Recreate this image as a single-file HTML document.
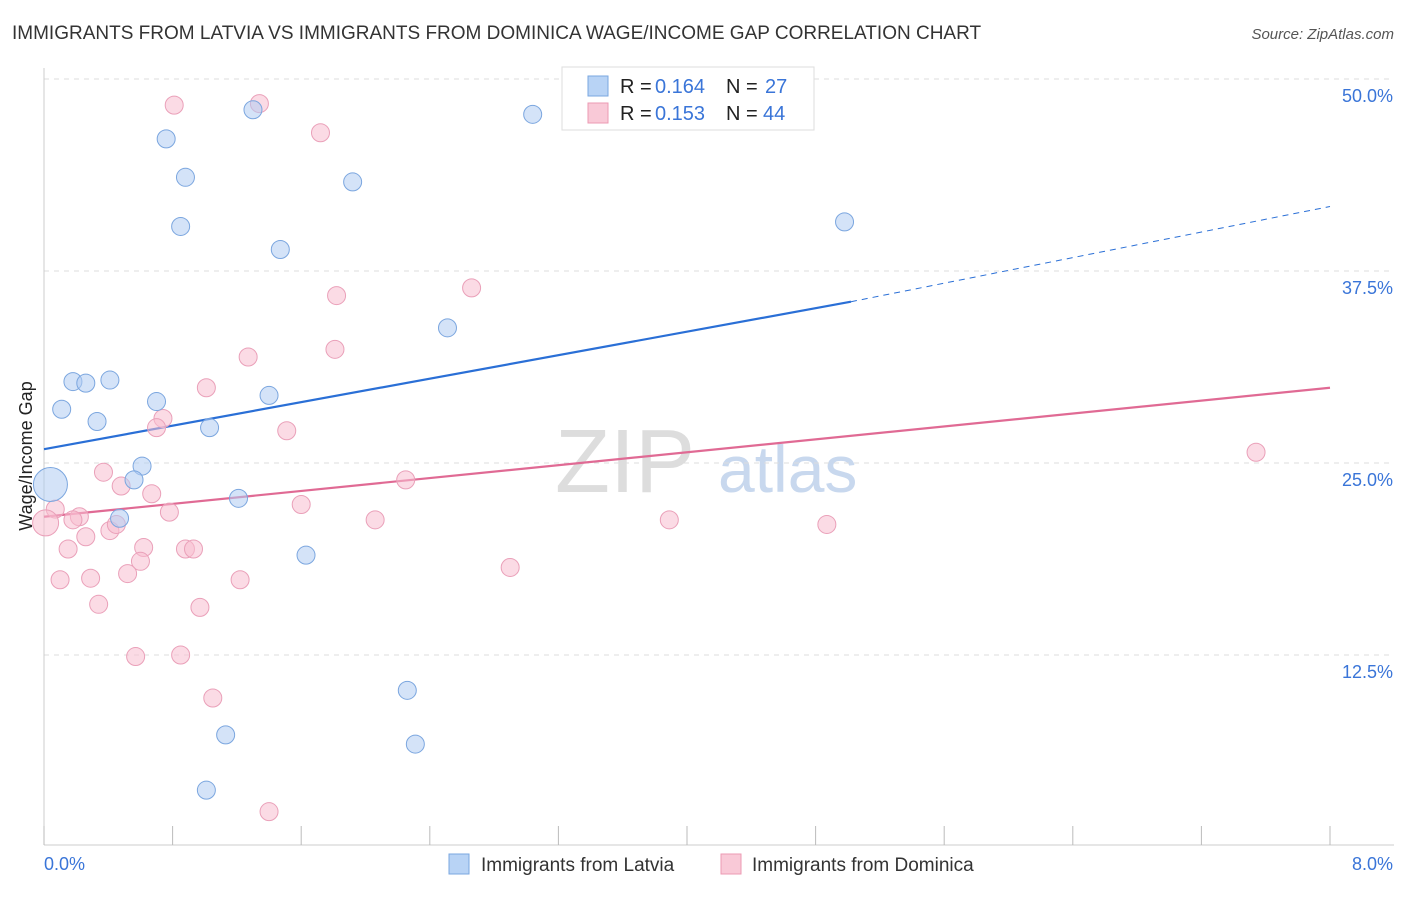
<!DOCTYPE html>
<html><head><meta charset="utf-8"><style>
body{margin:0;background:#fff;font-family:"Liberation Sans",sans-serif;}
svg text{font-family:"Liberation Sans",sans-serif;}
</style></head><body>
<svg id="c" width="1406" height="892">
<text x="12" y="39" font-size="19" fill="#333">IMMIGRANTS FROM LATVIA VS IMMIGRANTS FROM DOMINICA WAGE/INCOME GAP CORRELATION CHART</text>
<text x="1394" y="39" font-size="15" fill="#555" text-anchor="end" font-style="italic">Source: ZipAtlas.com</text>
<text x="32" y="456" font-size="18" fill="#222" text-anchor="middle" transform="rotate(-90 32 456)">Wage/Income Gap</text>
<text x="555" y="492" font-size="90" fill="#ddd" font-family="Liberation Serif">ZIP</text>
<text x="718" y="492" font-size="66" fill="#c8d8ee">atlas</text>
<g id="grid"></g><g id="trend"></g><g id="pts"></g>
<g>
<rect x="562" y="67" width="252" height="63" fill="#fff" stroke="#ddd"/>
<rect x="588" y="76" width="20" height="20" fill="#b8d3f5" stroke="#7aa7e0"/>
<rect x="588" y="103" width="20" height="20" fill="#f9c9d7" stroke="#ec9ab3"/>
<text y="93" font-size="20" fill="#222"><tspan x="620">R =</tspan><tspan x="655" fill="#3a75d8">0.164</tspan><tspan x="726">N =</tspan><tspan x="765" fill="#3a75d8">27</tspan></text>
<text y="120" font-size="20" fill="#222"><tspan x="620">R =</tspan><tspan x="655" fill="#3a75d8">0.153</tspan><tspan x="726">N =</tspan><tspan x="763" fill="#3a75d8">44</tspan></text>
</g>
<g>
<rect x="449" y="854" width="20" height="20" fill="#b8d3f5" stroke="#7aa7e0"/>
<text x="481" y="871" font-size="19" fill="#333">Immigrants from Latvia</text>
<rect x="721" y="854" width="20" height="20" fill="#f9c9d7" stroke="#ec9ab3"/>
<text x="752" y="871" font-size="19" fill="#333">Immigrants from Dominica</text>
</g>
</svg>
<script>
const yTicks=[12.5,25,37.5,50];
const xTickLabels=["0.0%","8.0%"];
const latviaX=[0.76,0.88,0.85,1.30,3.04,1.92,1.47,4.98,2.51,0.18,0.26,0.41,0.11,0.33,0.70,1.40,1.03,0.61,0.56,1.21,0.47,1.63,2.26,1.13,2.31,1.01,0.04];
const latviaY=[46.1,43.6,40.4,48.0,47.7,43.3,38.9,40.7,33.8,30.3,30.2,30.4,28.5,27.7,29.0,29.4,27.3,24.8,23.9,22.7,21.4,19.0,10.2,7.3,6.7,3.7,23.6];
const latviaSize=[9,9,9,9,9,9,9,9,9,9,9,9,9,9,9,9,9,9,9,9,9,9,9,9,9,9,17];
const domX=[0.81,1.34,1.72,1.82,2.66,1.81,1.27,1.01,0.74,0.70,1.51,0.37,0.48,0.67,2.25,1.60,0.78,0.07,0.22,0.18,2.06,3.89,4.87,7.54,0.26,0.41,0.45,0.15,0.62,0.88,0.93,0.60,0.52,0.29,0.10,1.22,2.90,0.34,0.97,0.57,0.85,1.05,1.40,0.01];
const domY=[48.3,48.4,46.5,35.9,36.4,32.4,31.9,29.9,27.9,27.3,27.1,24.4,23.5,23.0,23.9,22.3,21.8,22.0,21.5,21.3,21.3,21.3,21.0,25.7,20.2,20.6,21.0,19.4,19.5,19.4,19.4,18.6,17.8,17.5,17.4,17.4,18.2,15.8,15.6,12.4,12.5,9.7,2.3,21.1];
const domSize=[9,9,9,9,9,9,9,9,9,9,9,9,9,9,9,9,9,9,9,9,9,9,9,9,9,9,9,9,9,9,9,9,9,9,9,9,9,9,9,9,9,9,9,13];
const latviaTrend=[25.9,35.5,41.7];
const domTrend=[21.5,29.9];
const X0=44,X1=1330,Y0=847,YT=79;
const sx=v=>X0+v/8*(X1-X0), sy=v=>Y0-v/50*(Y0-YT);
const NS="http://www.w3.org/2000/svg";
function mk(t,a,p){const e=document.createElementNS(NS,t);for(const k in a)e.setAttribute(k,a[k]);p.appendChild(e);return e;}
const g=document.getElementById('grid');
yTicks.forEach(t=>{
 const l=mk('line',{x1:X0,x2:1394,y1:sy(t),y2:sy(t),stroke:'#ddd','stroke-dasharray':'5,5'},g);
 
 
 const tx=mk('text',{x:1393,y:sy(t)+23,'font-size':18,fill:'#3a75d8','text-anchor':'end'},g);
 tx.textContent=t.toFixed(1)+'%';
 
 
});
const ax=mk('line',{x1:X0,x2:1394,y1:845,y2:845,stroke:'#ccc'},g);


const ay=mk('line',{x1:X0,x2:X0,y1:68,y2:845,stroke:'#ccc'},g);


for(let i=0;i<=10;i++){const x=X0+i*(X1-X0)/10;const t=mk('line',{x1:x,x2:x,y1:826,y2:845,stroke:'#bbb'},g);
 
 }
const xl0=mk('text',{x:44,y:870,'font-size':18,fill:'#3a75d8'},g);xl0.textContent=xTickLabels[0];


const xl1=mk('text',{x:1393,y:870,'font-size':18,fill:'#3a75d8','text-anchor':'end'},g);xl1.textContent=xTickLabels[1];


const tg=document.getElementById('trend');
const b1=mk('line',{x1:sx(0),y1:sy(latviaTrend[0]),x2:sx(5.02),y2:sy(latviaTrend[1]),stroke:'#2a6fd6','stroke-width':2.2},tg);


const b2=mk('line',{x1:sx(5.02),y1:sy(latviaTrend[1]),x2:sx(8),y2:sy(latviaTrend[2]),stroke:'#2a6fd6','stroke-width':1,'stroke-dasharray':'6,5'},tg);


const p1=mk('line',{x1:sx(0),y1:sy(domTrend[0]),x2:sx(8),y2:sy(domTrend[1]),stroke:'#e06a94','stroke-width':2.2},tg);


const pg=document.getElementById('pts');
domX.forEach((v,i)=>{const c=mk('circle',{cx:sx(v),cy:sy(domY[i]),r:domSize[i],fill:'rgba(248,190,208,0.55)',stroke:'#eaa0b9','stroke-width':1},pg);
 
 });
latviaX.forEach((v,i)=>{const c=mk('circle',{cx:sx(v),cy:sy(latviaY[i]),r:latviaSize[i],fill:'rgba(176,204,242,0.55)',stroke:'#7ba6df','stroke-width':1},pg);
 
 });
</script>
</body></html>
